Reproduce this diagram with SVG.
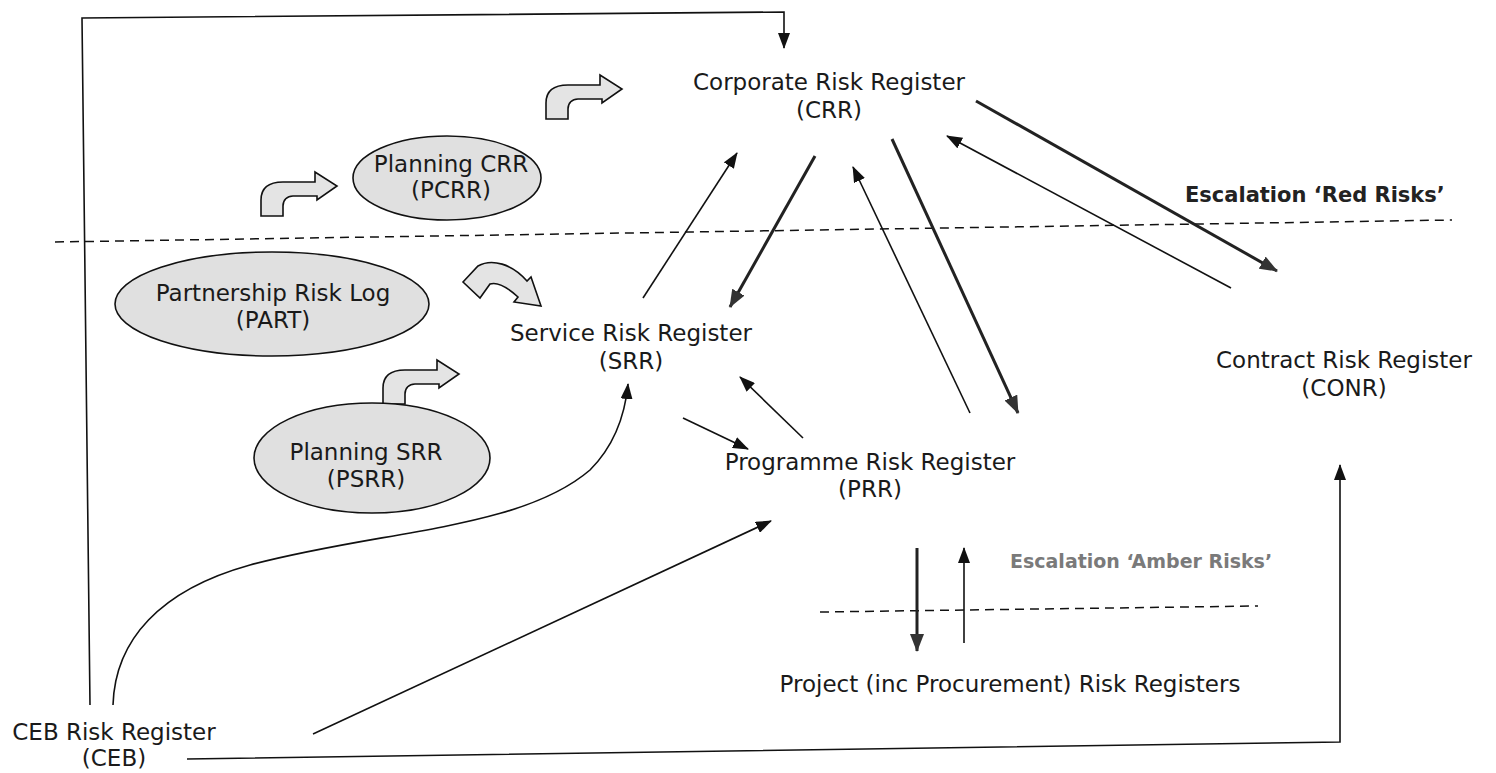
<svg xmlns="http://www.w3.org/2000/svg" width="1496" height="773" viewBox="0 0 1496 773">
  <style>
    .lbl { font-family: "DejaVu Sans", Verdana, sans-serif; font-size: 23px; fill: #1a1a1a; text-anchor: middle; }
    .esc { font-family: "DejaVu Sans", Verdana, sans-serif; font-size: 21px; font-weight: bold; }
    .oval { fill: #e0e0e0; stroke: #111; stroke-width: 1.6; }
    .blk { fill: #e4e4e4; stroke: #111; stroke-width: 1.6; stroke-linejoin: miter; }
    .thin { fill: none; stroke: #111; stroke-width: 1.6; }
    .thick { fill: none; stroke: #222; stroke-width: 3; }
    .dash { fill: none; stroke: #111; stroke-width: 1.5; stroke-dasharray: 9 6; }
  </style>
  <defs>
    <marker id="ah" viewBox="0 0 16 12" refX="15" refY="6" markerWidth="16" markerHeight="12" orient="auto" markerUnits="userSpaceOnUse">
      <path d="M0,0 L16,6 L0,12 Z" fill="#111"/>
    </marker>
    <marker id="ahk" viewBox="0 0 18 14" refX="17" refY="7" markerWidth="18" markerHeight="14" orient="auto" markerUnits="userSpaceOnUse">
      <path d="M0,0 L18,7 L0,14 Z" fill="#333"/>
    </marker>
    <!-- bent block arrow: stem rises from origin, turns right, head points right -->
    <path id="bent" d="M0,0 V-16 C0,-28 8,-34 22,-34 H54 V-44 L76,-30 L56,-16 V-20 H32 C26,-20 22,-16 22,-10 V0 Z"/>
  </defs>

  <!-- escalation boundaries -->
  <g id="boundaries">
    <path class="dash" d="M55,242 L1452,220"/>
    <text class="esc" x="1185" y="202" fill="#222">Escalation ‘Red Risks’</text>
    <path class="dash" d="M820,612 L1258,606"/>
    <text class="esc" x="1010" y="568" fill="#7a7a7a" style="font-size:19px">Escalation ‘Amber Risks’</text>
  </g>

  <!-- connectors -->
  <g id="connectors">
    <path class="thin" d="M90,705 L82,18 L784,12 L784,48" marker-end="url(#ah)"/>
    <path class="thin" d="M643,298 L737,153" marker-end="url(#ah)"/>
    <path class="thick" d="M815,156 L730,307" marker-end="url(#ahk)"/>
    <path class="thin" d="M970,413 L853,167" marker-end="url(#ah)"/>
    <path class="thick" d="M892,139 L1018,413" marker-end="url(#ahk)"/>
    <path class="thin" d="M1231,288 L947,136" marker-end="url(#ah)"/>
    <path class="thick" d="M976,101 L1277,271" marker-end="url(#ahk)"/>
    <path class="thin" d="M683,418 L748,449" marker-end="url(#ah)"/>
    <path class="thin" d="M803,438 L740,377" marker-end="url(#ah)"/>
    <path class="thin" d="M113,705 C115,640 160,590 250,565 C380,530 520,530 590,470 C615,445 625,415 628,384" marker-end="url(#ah)"/>
    <path class="thin" d="M313,734 L771,521" marker-end="url(#ah)"/>
    <path class="thin" d="M187,759 L1340,742 L1340,465" marker-end="url(#ah)"/>
    <path class="thick" d="M917,548 L917,651" marker-end="url(#ahk)"/>
    <path class="thin" d="M964,643 L964,548" marker-end="url(#ah)"/>
  </g>

  <!-- feeder block arrows -->
  <g id="feeders">
    <use href="#bent" class="blk" transform="translate(261,216)"/>
    <use href="#bent" class="blk" transform="translate(546,119)"/>
    <use href="#bent" class="blk" transform="translate(383,404)"/>
    <path class="blk" d="M463,282 L478,266 C492,258 512,264 527,281 L531,277 L541,306 L514,302 L518,297 C506,286 496,282 490,284 L480,298 Z"/>
  </g>

  <g id="crr">
    <text class="lbl" x="829" y="90">Corporate Risk Register</text>
    <text class="lbl" x="829" y="118">(CRR)</text>
  </g>

  <g id="pcrr">
    <ellipse class="oval" cx="447" cy="178" rx="94" ry="42"/>
    <text class="lbl" x="451" y="172">Planning CRR</text>
    <text class="lbl" x="451" y="198">(PCRR)</text>
  </g>

  <g id="part">
    <ellipse class="oval" cx="272" cy="304" rx="157" ry="52"/>
    <text class="lbl" x="273" y="301">Partnership Risk Log</text>
    <text class="lbl" x="273" y="328">(PART)</text>
  </g>

  <g id="srr">
    <text class="lbl" x="631" y="341">Service Risk Register</text>
    <text class="lbl" x="631" y="369">(SRR)</text>
  </g>

  <g id="psrr">
    <ellipse class="oval" cx="372" cy="458" rx="118" ry="55"/>
    <text class="lbl" x="366" y="460">Planning SRR</text>
    <text class="lbl" x="366" y="487">(PSRR)</text>
  </g>

  <g id="prr">
    <text class="lbl" x="870" y="470">Programme Risk Register</text>
    <text class="lbl" x="870" y="497">(PRR)</text>
  </g>

  <g id="conr">
    <text class="lbl" x="1344" y="368">Contract Risk Register</text>
    <text class="lbl" x="1344" y="396">(CONR)</text>
  </g>

  <g id="projects">
    <text class="lbl" x="1010" y="692">Project (inc Procurement) Risk Registers</text>
  </g>

  <g id="ceb">
    <text class="lbl" x="114" y="740">CEB Risk Register</text>
    <text class="lbl" x="114" y="766">(CEB)</text>
  </g>
</svg>
